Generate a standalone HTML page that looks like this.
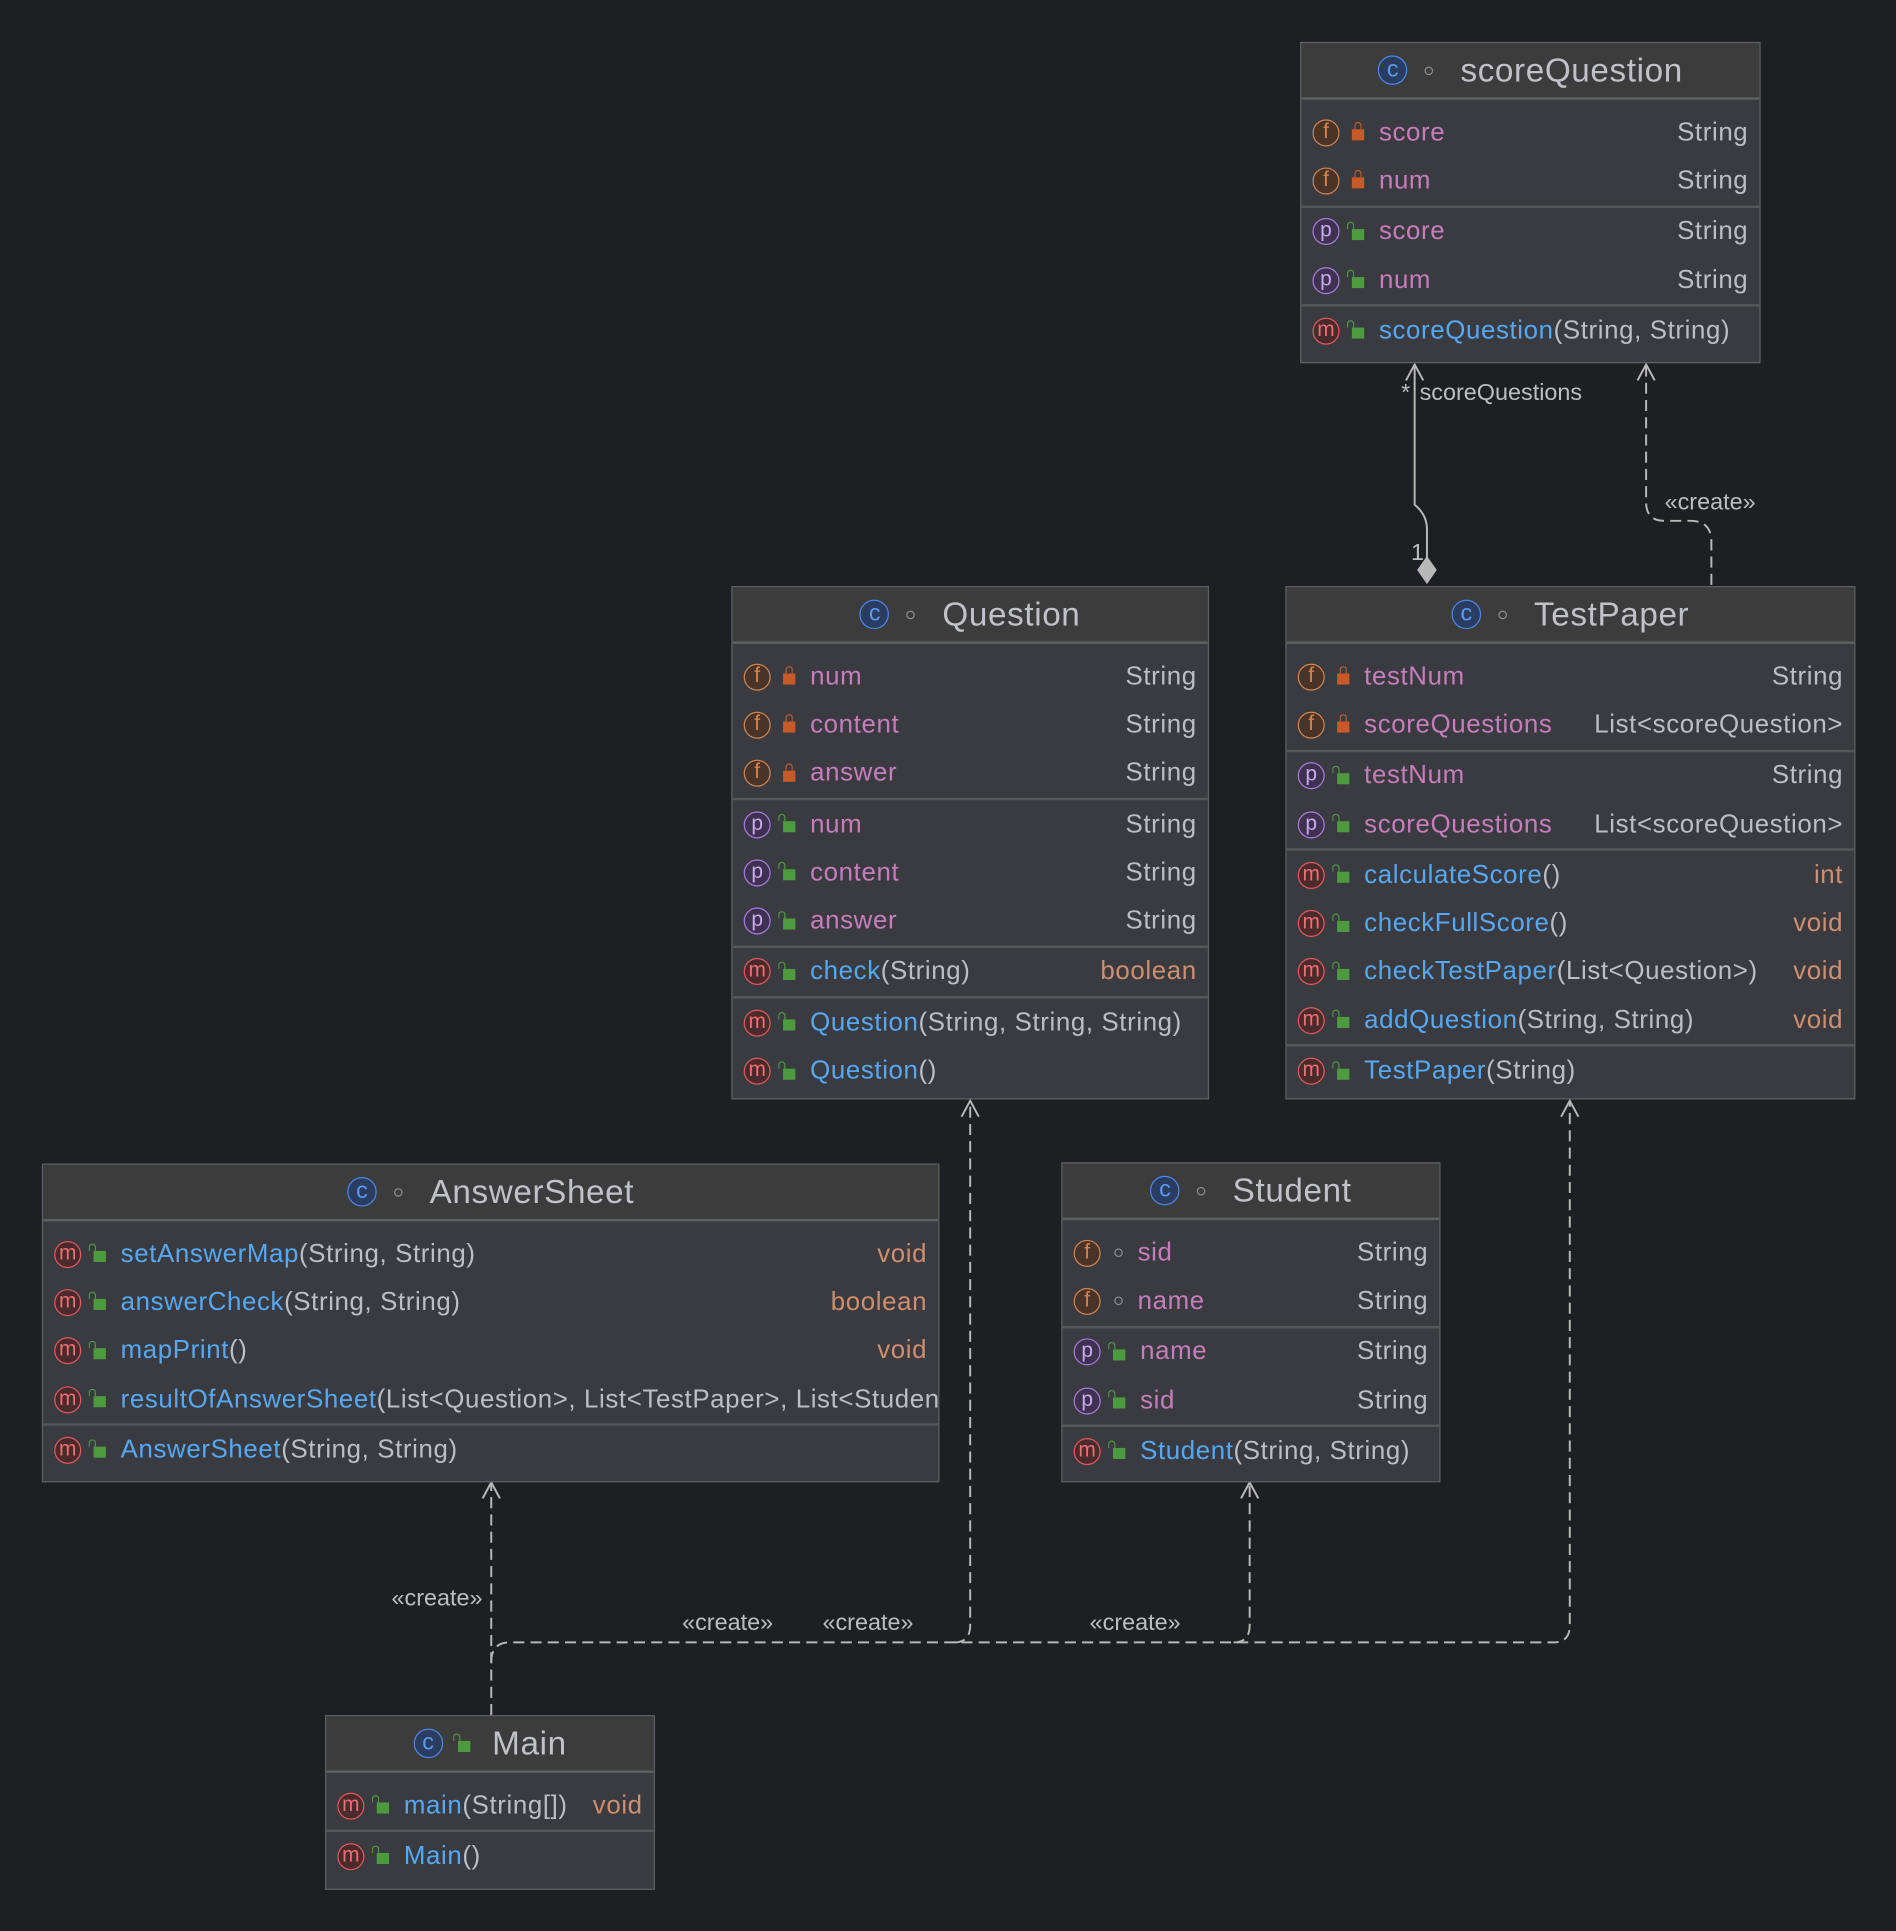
<!DOCTYPE html>
<html><head><meta charset="utf-8"><style>
html,body{margin:0;padding:0;background:#1e1f22;width:1896px;height:1930px;overflow:hidden}
#w{position:absolute;left:0;top:0;width:1540px;height:1568px;transform:scale(1.2312);transform-origin:0 0;font-family:"Liberation Sans",sans-serif;color:#bcbec4}
.b{position:absolute;background:#393b40;border:1.5px solid #5e6064;box-sizing:border-box;overflow:hidden}
.h{height:46px;background:#3c3c3d;border-bottom:2px solid #5e6064;display:flex;align-items:center;justify-content:center;font-size:27px;letter-spacing:0.5px;color:#c0c2c8;box-sizing:border-box}
.bd{padding:7px 0 6px 0}
.r{height:39.3px;display:flex;align-items:center;font-size:21px;letter-spacing:0.5px;white-space:nowrap}
.s{border-top:2px solid #55575b}
.i{width:20px;height:20px;border-radius:50%;border:1.6px solid;font-size:17px;line-height:18px;text-align:center;margin-left:9px;flex:none;letter-spacing:0}
.f{border-color:#d38450;color:#d38450;background:#4a3428}
.p{border-color:#a87be0;color:#c9a9f0;background:#3e3250}
.m{border-color:#e05a5a;color:#ee6f6f;background:#4a2a2c}
.c{border-color:#4a88e8;color:#5b9af0;background:#2a3c60;width:22px;height:22px;line-height:21px;font-size:19px;margin:0}
.lk{width:10px;height:9px;margin:4px 12px 0 10px;position:relative;flex:none}
.lk.pr{background:#c85a28}
.lk.pr:before{content:"";position:absolute;left:1.5px;top:-6px;width:4px;height:5px;border:1.5px solid #c85a28;border-bottom:none;border-radius:4px 4px 0 0}
.lk.pu{background:#4e9a3e}
.lk.pu:before{content:"";position:absolute;left:-4px;top:-6px;width:4px;height:5px;border:1.5px solid #4e9a3e;border-bottom:none;border-radius:4px 4px 0 0}
.pk{width:5px;height:5px;border:1.5px solid #8a8c90;border-radius:50%;margin:0 12px 0 11px;flex:none}
.n{color:#c77dbb}
.mt{color:#56a8f5}
.t{margin-left:auto;padding-right:9px;padding-left:12px}
.o{color:#cf8e6d}
.hd{display:flex;align-items:center}
.hd .pk{margin:0 22px 0 14px}
.lbl{position:absolute;font-size:19px;color:#bcbec4}
</style></head><body><div id="w">

<svg width="1540" height="1568" style="position:absolute;left:0;top:0" fill="none" stroke="#b8b8b8" stroke-width="1.6">
<path d="M1159 456 L1159 430 Q1159 418 1149 410 L1149 297"/>
<path d="M1142 309 L1149 296 L1156 309"/>
<path d="M1159 453 L1166 463 L1159 473 L1152 463 Z" fill="#b8b8b8"/>
<g stroke-dasharray="9 5">
<path d="M1390 475 L1390 440 Q1390 423 1373 423 L1352 423 Q1337 423 1337 408 L1337 297"/>
<path d="M399 1393 L399 1205"/>
<path d="M399 1350 Q399 1334 414 1334 L1262 1334 Q1275 1334 1275 1320 L1275 895"/>
<path d="M775 1334 Q788 1334 788 1320 L788 895"/>
<path d="M1002 1334 Q1015 1334 1015 1320 L1015 1205"/>
</g>
<path d="M1330 309 L1337 296 L1344 309"/>
<path d="M392 1217 L399 1204 L406 1217"/>
<path d="M781 907 L788 894 L795 907"/>
<path d="M1008 1217 L1015 1204 L1022 1217"/>
<path d="M1268 907 L1275 894 L1282 907"/>
</svg>
<div class="lbl" style="left:1138px;top:309px">*</div>
<div class="lbl" style="left:1153px;top:309px">scoreQuestions</div>
<div class="lbl" style="left:1146px;top:439px">1</div>
<div class="lbl" style="left:1352px;top:398px">«create»</div>
<div class="lbl" style="left:318px;top:1288px">«create»</div>
<div class="lbl" style="left:554px;top:1308px">«create»</div>
<div class="lbl" style="left:668px;top:1308px">«create»</div>
<div class="lbl" style="left:885px;top:1308px">«create»</div>

<!-- scoreQuestion -->
<div class="b" style="left:1056px;top:34px;width:374px;height:261px">
<div class="h"><div class="hd"><span class="i c">c</span><span class="pk"></span>scoreQuestion</div></div>
<div class="bd">
<div class="r"><span class="i f">f</span><span class="lk pr"></span><span class="n">score</span><span class="t">String</span></div>
<div class="r"><span class="i f">f</span><span class="lk pr"></span><span class="n">num</span><span class="t">String</span></div>
<div class="r s"><span class="i p">p</span><span class="lk pu"></span><span class="n">score</span><span class="t">String</span></div>
<div class="r"><span class="i p">p</span><span class="lk pu"></span><span class="n">num</span><span class="t">String</span></div>
<div class="r s"><span class="i m">m</span><span class="lk pu"></span><span class="mt">scoreQuestion</span>(String, String)</div>
</div></div>

<!-- Question -->
<div class="b" style="left:594px;top:476px;width:388px;height:417px">
<div class="h"><div class="hd"><span class="i c">c</span><span class="pk"></span>Question</div></div>
<div class="bd">
<div class="r"><span class="i f">f</span><span class="lk pr"></span><span class="n">num</span><span class="t">String</span></div>
<div class="r"><span class="i f">f</span><span class="lk pr"></span><span class="n">content</span><span class="t">String</span></div>
<div class="r"><span class="i f">f</span><span class="lk pr"></span><span class="n">answer</span><span class="t">String</span></div>
<div class="r s"><span class="i p">p</span><span class="lk pu"></span><span class="n">num</span><span class="t">String</span></div>
<div class="r"><span class="i p">p</span><span class="lk pu"></span><span class="n">content</span><span class="t">String</span></div>
<div class="r"><span class="i p">p</span><span class="lk pu"></span><span class="n">answer</span><span class="t">String</span></div>
<div class="r s"><span class="i m">m</span><span class="lk pu"></span><span class="mt">check</span>(String)<span class="t o">boolean</span></div>
<div class="r s"><span class="i m">m</span><span class="lk pu"></span><span class="mt">Question</span>(String, String, String)</div>
<div class="r"><span class="i m">m</span><span class="lk pu"></span><span class="mt">Question</span>()</div>
</div></div>

<!-- TestPaper -->
<div class="b" style="left:1044px;top:476px;width:463px;height:417px">
<div class="h"><div class="hd"><span class="i c">c</span><span class="pk"></span>TestPaper</div></div>
<div class="bd">
<div class="r"><span class="i f">f</span><span class="lk pr"></span><span class="n">testNum</span><span class="t">String</span></div>
<div class="r"><span class="i f">f</span><span class="lk pr"></span><span class="n">scoreQuestions</span><span class="t">List&lt;scoreQuestion&gt;</span></div>
<div class="r s"><span class="i p">p</span><span class="lk pu"></span><span class="n">testNum</span><span class="t">String</span></div>
<div class="r"><span class="i p">p</span><span class="lk pu"></span><span class="n">scoreQuestions</span><span class="t">List&lt;scoreQuestion&gt;</span></div>
<div class="r s"><span class="i m">m</span><span class="lk pu"></span><span class="mt">calculateScore</span>()<span class="t o">int</span></div>
<div class="r"><span class="i m">m</span><span class="lk pu"></span><span class="mt">checkFullScore</span>()<span class="t o">void</span></div>
<div class="r"><span class="i m">m</span><span class="lk pu"></span><span class="mt">checkTestPaper</span>(List&lt;Question&gt;)<span class="t o">void</span></div>
<div class="r"><span class="i m">m</span><span class="lk pu"></span><span class="mt">addQuestion</span>(String, String)<span class="t o">void</span></div>
<div class="r s"><span class="i m">m</span><span class="lk pu"></span><span class="mt">TestPaper</span>(String)</div>
</div></div>

<!-- AnswerSheet -->
<div class="b" style="left:34px;top:945px;width:729px;height:259px">
<div class="h"><div class="hd"><span class="i c">c</span><span class="pk"></span>AnswerSheet</div></div>
<div class="bd">
<div class="r"><span class="i m">m</span><span class="lk pu"></span><span class="mt">setAnswerMap</span>(String, String)<span class="t o">void</span></div>
<div class="r"><span class="i m">m</span><span class="lk pu"></span><span class="mt">answerCheck</span>(String, String)<span class="t o">boolean</span></div>
<div class="r"><span class="i m">m</span><span class="lk pu"></span><span class="mt">mapPrint</span>()<span class="t o">void</span></div>
<div class="r"><span class="i m">m</span><span class="lk pu"></span><span class="mt">resultOfAnswerSheet</span>(List&lt;Question&gt;, List&lt;TestPaper&gt;, List&lt;Student&gt;)</div>
<div class="r s"><span class="i m">m</span><span class="lk pu"></span><span class="mt">AnswerSheet</span>(String, String)</div>
</div></div>

<!-- Student -->
<div class="b" style="left:862px;top:944px;width:308px;height:260px">
<div class="h"><div class="hd"><span class="i c">c</span><span class="pk"></span>Student</div></div>
<div class="bd">
<div class="r"><span class="i f">f</span><span class="pk"></span><span class="n">sid</span><span class="t">String</span></div>
<div class="r"><span class="i f">f</span><span class="pk"></span><span class="n">name</span><span class="t">String</span></div>
<div class="r s"><span class="i p">p</span><span class="lk pu"></span><span class="n">name</span><span class="t">String</span></div>
<div class="r"><span class="i p">p</span><span class="lk pu"></span><span class="n">sid</span><span class="t">String</span></div>
<div class="r s"><span class="i m">m</span><span class="lk pu"></span><span class="mt">Student</span>(String, String)</div>
</div></div>

<!-- Main -->
<div class="b" style="left:264px;top:1393px;width:268px;height:142px">
<div class="h"><div class="hd"><span class="i c">c</span><span class="lk pu" style="margin:4px 18px 0 12px"></span>Main</div></div>
<div class="bd">
<div class="r"><span class="i m">m</span><span class="lk pu"></span><span class="mt">main</span>(String[])<span class="t o">void</span></div>
<div class="r s"><span class="i m">m</span><span class="lk pu"></span><span class="mt">Main</span>()</div>
</div></div>

</div></body></html>
